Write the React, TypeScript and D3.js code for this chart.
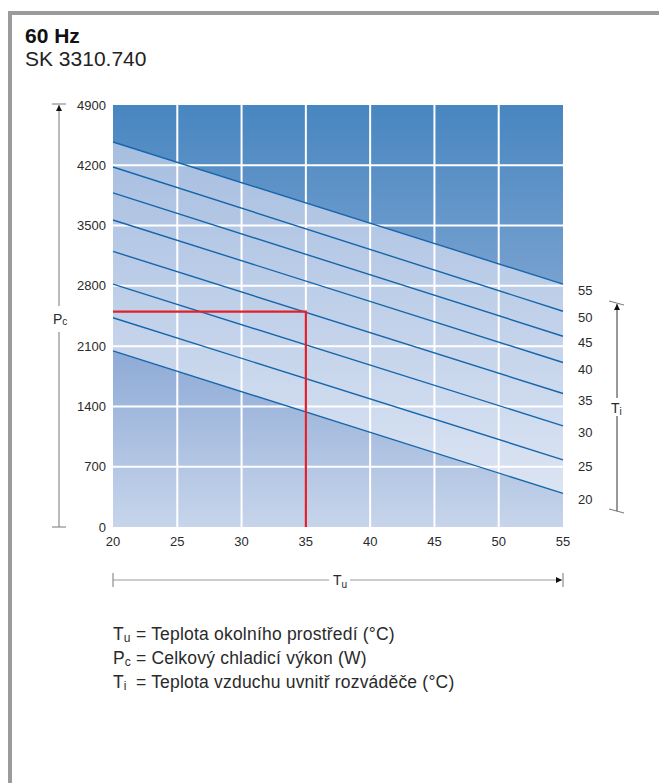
import React from "react";
import * as d3 from "d3";

const tuTicks = [20, 25, 30, 35, 40, 45, 50, 55];
const pcTicks = [0, 700, 1400, 2100, 2800, 3500, 4200, 4900];
const tiLabels = [55, 50, 45, 40, 35, 30, 25, 20];
const tiAtTu20 = [4470, 4180, 3880, 3565, 3200, 2820, 2430, 2045];
const tiAtTu55 = [2820, 2505, 2215, 1910, 1550, 1175, 780, 390];
const markerTu = 35;
const markerPc = 2500;

const FONT = "'Liberation Sans', Arial, Helvetica, sans-serif";

export default function App() {
  const x = d3.scaleLinear().domain([20, 55]).range([113, 563]);
  const y = d3.scaleLinear().domain([0, 4900]).range([527, 105]);
  const lines = tiLabels.map((t, i) => ({
    t,
    pts: [
      [20, tiAtTu20[i]],
      [55, tiAtTu55[i]],
    ] as [number, number][],
  }));
  const lineGen = d3
    .line<[number, number]>()
    .x((d) => x(d[0]))
    .y((d) => y(d[1]));
  const top = lines[0].pts;
  const bot = lines[lines.length - 1].pts;
  const darkPath = `M${x(20)},${y(4900)}L${x(55)},${y(4900)}L${x(55)},${y(top[1][1])}L${x(20)},${y(top[0][1])}Z`;
  const bandPath = `M${x(20)},${y(top[0][1])}L${x(55)},${y(top[1][1])}L${x(55)},${y(bot[1][1])}L${x(20)},${y(bot[0][1])}Z`;
  const lowPath = `M${x(20)},${y(bot[0][1])}L${x(55)},${y(bot[1][1])}L${x(55)},${y(0)}L${x(20)},${y(0)}Z`;

  const textCol = "#2a2a2a";
  const axisCol = "#777";

  return (
    <svg
      width={659}
      height={783}
      style={{ position: "absolute", left: 0, top: 0, background: "#fff" }}
      fontFamily={FONT}
    >
      <defs>
        <linearGradient id="gDark" gradientUnits="userSpaceOnUse" x1="0" y1={y(4900)} x2="0" y2={y(top[1][1])}>
          <stop offset="0" stopColor="#4886c0" />
          <stop offset="1" stopColor="#77a1d0" />
        </linearGradient>
        <linearGradient id="gBand" gradientUnits="userSpaceOnUse" x1="0" y1={y(top[0][1])} x2="0" y2={y(bot[1][1])}>
          <stop offset="0" stopColor="#a7bee0" />
          <stop offset="1" stopColor="#dbe4f3" />
        </linearGradient>
        <linearGradient id="gLow" gradientUnits="userSpaceOnUse" x1="0" y1={y(bot[0][1])} x2="0" y2={y(0)}>
          <stop offset="0" stopColor="#8eaad6" />
          <stop offset="1" stopColor="#c7d5eb" />
        </linearGradient>
        <marker id="arr" viewBox="0 0 10 10" refX="10" refY="5" markerWidth="8" markerHeight="6" orient="auto" markerUnits="userSpaceOnUse">
          <path d="M0,0L10,5L0,10Z" fill="#111" />
        </marker>
      </defs>

      {/* frame */}
      <rect x={8} y={11} width={651} height={4} fill="#9b9b9b" />
      <rect x={8} y={11} width={4} height={772} fill="#9b9b9b" />

      {/* title */}
      <text x={25} y={43} fontSize={21} fontWeight="bold" fill="#111">60 Hz</text>
      <text x={25} y={66} fontSize={21} fill="#222">SK 3310.740</text>

      {/* fills */}
      <path d={darkPath} fill="url(#gDark)" />
      <path d={bandPath} fill="url(#gBand)" />
      <path d={lowPath} fill="url(#gLow)" />

      {/* grid */}
      {tuTicks.slice(1, -1).map((t) => (
        <line key={"gx" + t} x1={x(t)} x2={x(t)} y1={y(4900)} y2={y(0)} stroke="#fff" strokeWidth={2} />
      ))}
      {pcTicks.slice(1, -1).map((p) => (
        <line key={"gy" + p} x1={x(20)} x2={x(55)} y1={y(p)} y2={y(p)} stroke="#fff" strokeWidth={2} />
      ))}

      {/* Ti lines */}
      {lines.map((l) => (
        <path key={"l" + l.t} d={lineGen(l.pts) || ""} fill="none" stroke="#1666ab" strokeWidth={1.4} />
      ))}

      {/* red marker */}
      <polyline
        points={`${x(20)},${y(markerPc)} ${x(markerTu)},${y(markerPc)} ${x(markerTu)},${y(0)}`}
        fill="none"
        stroke="#e3202a"
        strokeWidth={2.2}
      />

      {/* y tick labels */}
      {pcTicks.map((p) => (
        <text key={"yt" + p} x={106} y={y(p) + 4.5} fontSize={13} textAnchor="end" fill={textCol}>
          {p}
        </text>
      ))}
      {/* x tick labels */}
      {tuTicks.map((t) => (
        <text key={"xt" + t} x={x(t)} y={546} fontSize={13} textAnchor="middle" fill={textCol}>
          {t}
        </text>
      ))}
      {/* right Ti labels */}
      {lines.map((l) => (
        <text key={"rt" + l.t} x={578} y={y(l.pts[1][1]) + 11} fontSize={13} fill={textCol}>
          {l.t}
        </text>
      ))}

      {/* left Pc axis */}
      <line x1={52} x2={66} y1={104} y2={104} stroke={axisCol} strokeWidth={1} />
      <line x1={52} x2={66} y1={y(0)} y2={y(0)} stroke={axisCol} strokeWidth={1} />
      <line x1={59} x2={59} y1={y(0)} y2={332} stroke={axisCol} strokeWidth={1} />
      <line x1={59} x2={59} y1={306} y2={105} stroke={axisCol} strokeWidth={1} markerEnd="url(#arr)" />
      <text x={53} y={324} fontSize={14} fill={textCol}>
        P<tspan fontSize={10} dy={1}>c</tspan>
      </text>

      {/* right Ti axis */}
      <line x1={609} x2={624} y1={301} y2={305} stroke={axisCol} strokeWidth={1} />
      <line x1={609} x2={624} y1={509} y2={513} stroke={axisCol} strokeWidth={1} />
      <line x1={617} x2={617} y1={511} y2={416} stroke="#333" strokeWidth={1} />
      <line x1={617} x2={617} y1={398} y2={304} stroke="#333" strokeWidth={1} markerEnd="url(#arr)" />
      <text x={611} y={413} fontSize={14} fill={textCol}>
        T<tspan fontSize={10} dy={2}>i</tspan>
      </text>

      {/* bottom Tu axis */}
      <line x1={x(20)} x2={x(20)} y1={573} y2={587} stroke={axisCol} strokeWidth={1} />
      <line x1={x(55)} x2={x(55)} y1={573} y2={587} stroke={axisCol} strokeWidth={1} />
      <line x1={x(20)} x2={329} y1={580} y2={580} stroke="#999" strokeWidth={1.2} />
      <line x1={350} x2={x(55) - 1} y1={580} y2={580} stroke="#999" strokeWidth={1.2} markerEnd="url(#arr)" />
      <text x={333} y={585} fontSize={14} fill={textCol}>
        T<tspan fontSize={10} dy={3}>u</tspan>
      </text>

      {/* legend */}
      <g fontSize={17.5} fill={textCol}>
        <text x={113} y={640}>
          T<tspan fontSize={12} dy={2}>u</tspan>
        </text>
        <text x={136} y={640} letterSpacing={0.2}>= Teplota okolního prostředí (°C)</text>
        <text x={113} y={664}>
          P<tspan fontSize={12} dy={2}>c</tspan>
        </text>
        <text x={136} y={664} letterSpacing={0.2}>= Celkový chladicí výkon (W)</text>
        <text x={113} y={688}>
          T<tspan fontSize={12} dy={2}>i</tspan>
        </text>
        <text x={136} y={688} letterSpacing={0.2}>= Teplota vzduchu uvnitř rozváděče (°C)</text>
      </g>
    </svg>
  );
}
